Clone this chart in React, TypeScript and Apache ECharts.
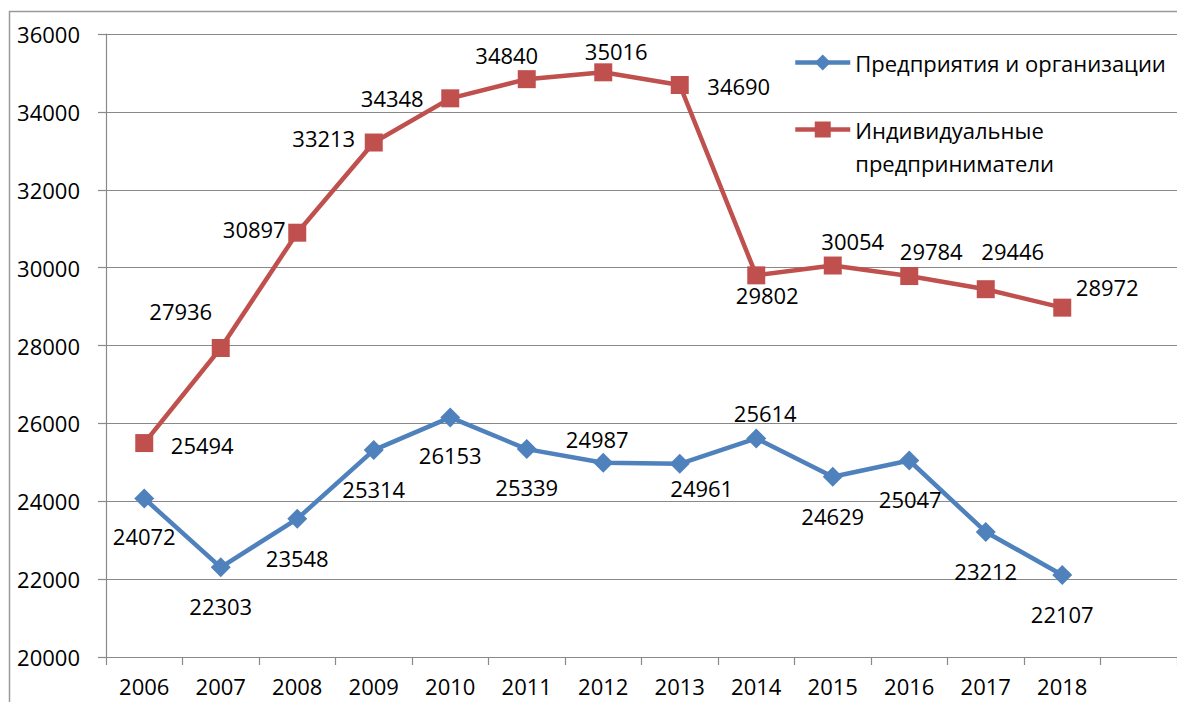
import React, { useEffect, useRef } from "react";
import * as echarts from "echarts";

const years = ["2006", "2007", "2008", "2009", "2010", "2011", "2012", "2013", "2014", "2015", "2016", "2017", "2018"];
const orgName = "Предприятия и организации";
const ipName = "Индивидуальные предприниматели";
const orgValues = [24072, 22303, 23548, 25314, 26153, 25339, 24987, 24961, 25614, 24629, 25047, 23212, 22107];
const ipValues = [25494, 27936, 30897, 33213, 34348, 34840, 35016, 34690, 29802, 30054, 29784, 29446, 28972];
const yMin = 20000;
const yMax = 36000;
const yStep = 2000;

// label offsets (styling), relative to marker centre
const orgOffsets = [[0, 38], [0, 39], [0, 39], [0, 39], [0, 38], [0, 38], [-6, -24], [22, 24], [9, -25], [0, 39], [1, 39], [0, 39], [0, 39]];
const ipOffsets = [[58, 2], [-40, -37], [-43, -4], [-50, -5], [-58, 0], [-20, -24], [13, -21], [59, 1], [11, 20], [20, -25], [22, -25], [27, -38], [45, -21]];

const FONT = "'Open Sans', sans-serif";
const FS = 22;
const BLUE = "#4F81BD";
const RED = "#C0504D";
const GRID = "#898989";

export default function App() {
  const ref = useRef<HTMLDivElement>(null);
  useEffect(() => {
    if (!ref.current) return;
    const chart = echarts.init(ref.current, undefined, { renderer: "svg" });
    const mk = (vals: number[], offs: number[][]) =>
      vals.map((v, i) => ({
        value: v,
        label: { show: true, position: "inside", offset: offs[i] },
      }));
    chart.setOption({
      animation: false,
      backgroundColor: "#ffffff",
      textStyle: { fontFamily: FONT },
      graphic: [
        {
          type: "rect",
          shape: { x: 9.5, y: 11.5, width: 1300, height: 900 },
          style: { fill: "none", stroke: "#9a9a9a", lineWidth: 1.5 },
          silent: true,
          z: -10,
        },
      ],
      grid: { left: 106, top: 34, width: 1073, height: 623, containLabel: false },
      xAxis: {
        type: "category",
        data: [...years, ""],
        boundaryGap: true,
        axisLine: { lineStyle: { color: GRID, width: 1.2 } },
        axisTick: { show: true, length: 8, alignWithLabel: false, lineStyle: { color: GRID, width: 1.2 } },
        axisLabel: { color: "#000", fontSize: FS, fontFamily: FONT, margin: 18, interval: 0 },
        splitLine: { show: false },
      },
      yAxis: {
        type: "value",
        min: yMin,
        max: yMax,
        interval: yStep,
        axisLine: { show: true, lineStyle: { color: GRID, width: 1.2 } },
        axisTick: { show: true, length: 8, lineStyle: { color: GRID, width: 1.2 } },
        axisLabel: { color: "#000", fontSize: FS, fontFamily: FONT, margin: 26, formatter: (v: number) => String(v) },
        splitLine: { show: true, lineStyle: { color: GRID, width: 1.2 } },
      },
      legend: [
        {
          data: [orgName],
          orient: "vertical",
          left: 793,
          top: 46,
          itemWidth: 55,
          itemHeight: 20,
          padding: 0,
          lineStyle: { width: 4.5 },
          textStyle: { color: "#000", fontSize: FS, fontFamily: FONT, lineHeight: 33 },
        },
        {
          data: [ipName],
          orient: "vertical",
          left: 793,
          top: 80,
          itemWidth: 55,
          itemHeight: 20,
          padding: 0,
          lineStyle: { width: 4.5 },
          formatter: () => "\nИндивидуальные\nпредприниматели",
          textStyle: { color: "#000", fontSize: FS, fontFamily: FONT, lineHeight: 33 },
        },
      ],
      series: [
        {
          name: orgName,
          type: "line",
          data: mk(orgValues, orgOffsets),
          symbol: "diamond",
          symbolSize: 20,
          color: BLUE,
          lineStyle: { color: BLUE, width: 4.5 },
          itemStyle: { color: BLUE },
          label: { color: "#000", fontSize: FS, fontFamily: FONT },
          z: 3,
        },
        {
          name: ipName,
          type: "line",
          data: mk(ipValues, ipOffsets),
          symbol: "rect",
          symbolSize: 18,
          color: RED,
          lineStyle: { color: RED, width: 4.5 },
          itemStyle: { color: RED },
          label: { color: "#000", fontSize: FS, fontFamily: FONT },
          z: 3,
        },
      ],
    });
    return () => chart.dispose();
  }, []);
  return (
    <div
      ref={ref}
      style={{ position: "absolute", left: 0, top: 0, width: 1177, height: 702, overflow: "hidden" }}
    />
  );
}
